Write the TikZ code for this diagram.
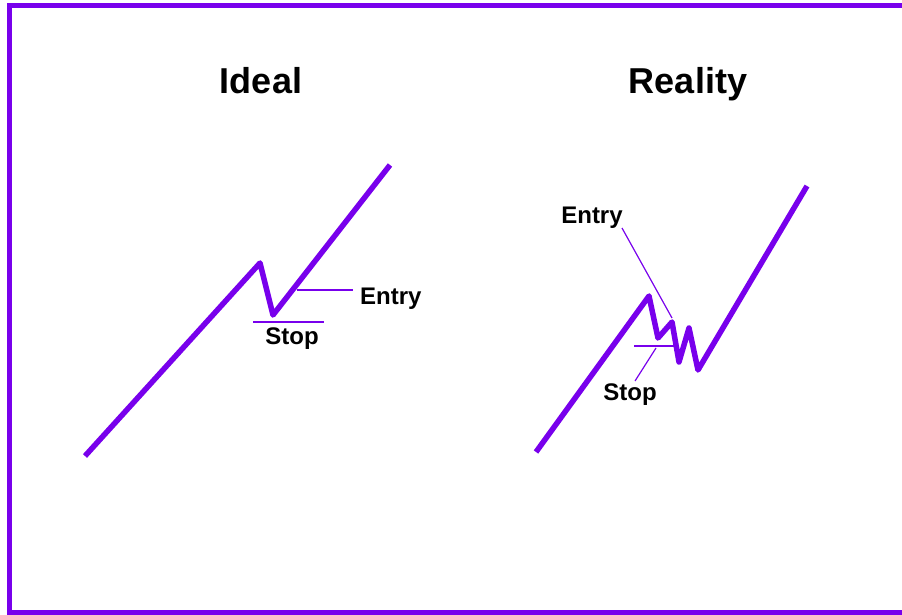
\documentclass[tikz,border=0pt]{standalone}
\usepackage{fontspec}
\setmainfont{Liberation Sans}
\definecolor{vio}{RGB}{120,0,236}
\begin{document}
\begin{tikzpicture}[x=1pt,y=-1pt,
  price/.style={draw=vio,line width=5.5pt,line join=round,line cap=butt},
  leader/.style={draw=vio,line width=1.2pt},
  title/.style={font=\bfseries\fontsize{36}{40}\selectfont,inner sep=0pt},
  lbl/.style={font=\bfseries\fontsize{24}{28}\selectfont,inner sep=0pt}]
\useasboundingbox (0,0) rectangle (902,615);
\fill[white] (0,0) rectangle (902,615);
% frame (open on the right)
\draw[vio,line width=5pt] (904,6) -- (9,6) -- (9,612.5) -- (904,612.5);
% titles
\node[title] (tIdeal) at (261,81) {Ideal};
\node[title] (tReal) at (688,84) {Reality};
% Ideal
\coordinate (i0) at (85,456);
\coordinate (i1) at (260,263);
\coordinate (i2) at (273,315);
\coordinate (i3) at (390,165);
\draw[price] (i0) -- (i1) -- (i2) -- (i3);
\coordinate (ie1) at (297,290);
\coordinate (ie2) at (353,290);
\draw[leader] (ie1) -- (ie2);
\node[lbl,anchor=west] (iEntry) at (360,299) {Entry};
\coordinate (is1) at (253,322);
\coordinate (is2) at (324,322);
\draw[leader] (is1) -- (is2);
\node[lbl] (iStop) at (292,339) {Stop};
% Reality
\coordinate (r0) at (536,452);
\coordinate (r1) at (649,296);
\coordinate (r2) at (658,338);
\coordinate (r3) at (672,322);
\coordinate (r4) at (679,362);
\coordinate (r5) at (689,328);
\coordinate (r6) at (698,370);
\coordinate (r7) at (807,186);
\draw[price] (r0) -- (r1) -- (r2) -- (r3) -- (r4) -- (r5) -- (r6) -- (r7);
\node[lbl] (rEntry) at (592,218) {Entry};
\coordinate (re1) at (622,228);
\coordinate (re2) at (672,318);
\draw[leader] (re1) -- (re2);
\coordinate (rs1) at (634,346);
\coordinate (rs2) at (676,346);
\draw[leader] (rs1) -- (rs2);
\coordinate (rl1) at (656,348);
\coordinate (rl2) at (635,381);
\draw[leader] (rl1) -- (rl2);
\node[lbl] (rStop) at (630,395) {Stop};
\end{tikzpicture}
\end{document}
